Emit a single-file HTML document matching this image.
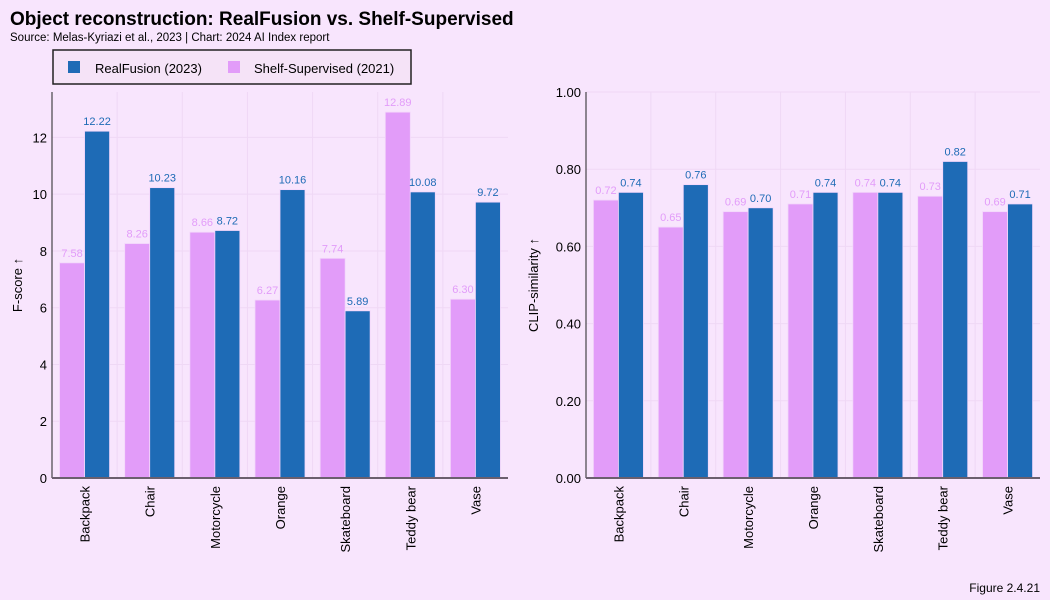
<!DOCTYPE html>
<html><head><meta charset="utf-8"><style>
body{margin:0;background:#f8e5fd;font-family:"Liberation Sans",sans-serif;}
svg{display:block}
</style></head><body>
<svg width="1050" height="600" xmlns="http://www.w3.org/2000/svg">
<rect width="1050" height="600" fill="#f8e5fd"/>
<text x="10" y="25" font-size="19" font-weight="bold" fill="#000">Object reconstruction: RealFusion vs. Shelf-Supervised</text>
<text x="10" y="41" font-size="11.5" fill="#000">Source: Melas-Kyriazi et al., 2023 | Chart: 2024 AI Index report</text>
<g>
<rect x="53" y="50" width="358" height="34" fill="#f5e3f7" stroke="#222" stroke-width="1.5"/>
<g><rect x="68" y="61" width="12" height="12" fill="#1e6bb6"/><text x="95" y="73" font-size="13">RealFusion (2023)</text></g>
<g><rect x="228" y="61" width="12" height="12" fill="#e29cf9"/><text x="254" y="73" font-size="13">Shelf-Supervised (2021)</text></g>
</g>
<g id="left"></g>
<g id="right"></g>
<text x="1040" y="592" font-size="12" text-anchor="end">Figure 2.4.21</text>
</svg>
<script>
const categories=["Backpack","Chair","Motorcycle","Orange","Skateboard","Teddy bear","Vase"];
const fscoreShelf=[7.58,8.26,8.66,6.27,7.74,12.89,6.30];
const fscoreReal=[12.22,10.23,8.72,10.16,5.89,10.08,9.72];
const clipShelf=[0.72,0.65,0.69,0.71,0.74,0.73,0.69];
const clipReal=[0.74,0.76,0.70,0.74,0.74,0.82,0.71];
const fscoreTicks=[0,2,4,6,8,10,12];
const clipTicks=[0,0.2,0.4,0.6,0.8,1.0];
const NS="http://www.w3.org/2000/svg";
function mk(p,t,a){const e=document.createElementNS(NS,t);for(const k in a)e.setAttribute(k,a[k]);p.appendChild(e);return e;}
function panel(g,x0,x1,ymax,shelf,real,ticks,dec,lbl,lblx){
 const base=478,top=92;
 const y=v=>base-(v/ymax)*(base-top);
 const step=(x1-x0)/categories.length;
 ticks.forEach(t=>{
  const gl=mk(g,'line',{x1:x0,x2:x1,y1:y(t),y2:y(t),stroke:'#efd8f5','stroke-width':1});
  
  
  const tx=mk(g,'text',{x:x0-5,y:y(t)+5,'font-size':13,'text-anchor':'end'});
  tx.textContent=t.toFixed(dec);
  
  
 });
 for(let i=1;i<categories.length;i++){mk(g,'line',{x1:x0+i*step,x2:x0+i*step,y1:top,y2:base,stroke:'#efd8f5'});}
 categories.forEach((c,i)=>{
  const cx=x0+step*(i+0.5),bw=25;
  const b1=mk(g,'rect',{x:cx-bw,y:y(shelf[i]),width:bw,height:base-y(shelf[i]),fill:'#e29cf9',stroke:'#f3d6fb','stroke-width':0.8});
  
  
  const b2=mk(g,'rect',{x:cx,y:y(real[i]),width:bw,height:base-y(real[i]),fill:'#1e6bb6',stroke:'#f3d6fb','stroke-width':0.8});
  
  
  const v1=mk(g,'text',{x:cx-bw/2,y:y(shelf[i])-6,'font-size':11,'text-anchor':'middle',fill:'#e29cf9'});
  v1.textContent=shelf[i].toFixed(2);
  
  
  const v2=mk(g,'text',{x:cx+bw/2,y:y(real[i])-6,'font-size':11,'text-anchor':'middle',fill:'#1e6bb6'});
  v2.textContent=real[i].toFixed(2);
  
  
  const xl=mk(g,'text',{x:0,y:0,'font-size':13,'text-anchor':'end',transform:`translate(${cx+5},${base+8}) rotate(-90)`});
  xl.textContent=c;
  
  
 });
 mk(g,'line',{x1:x0,x2:x0,y1:top,y2:base,stroke:'#222','stroke-width':1});
 mk(g,'line',{x1:x0,x2:x1,y1:base,y2:base,stroke:'#6b5f6e','stroke-width':2});
 const yl=mk(g,'text',{x:0,y:0,'font-size':13,'text-anchor':'middle',transform:`translate(${lblx},285) rotate(-90)`});
 yl.textContent=lbl;
 
 
}
panel(document.getElementById('left'),52,508,13.6,fscoreShelf,fscoreReal,fscoreTicks,0,'F-score ↑',22);
panel(document.getElementById('right'),586,1040,1.0,clipShelf,clipReal,clipTicks,2,'CLIP-similarity ↑',538);
</script>
</body></html>
